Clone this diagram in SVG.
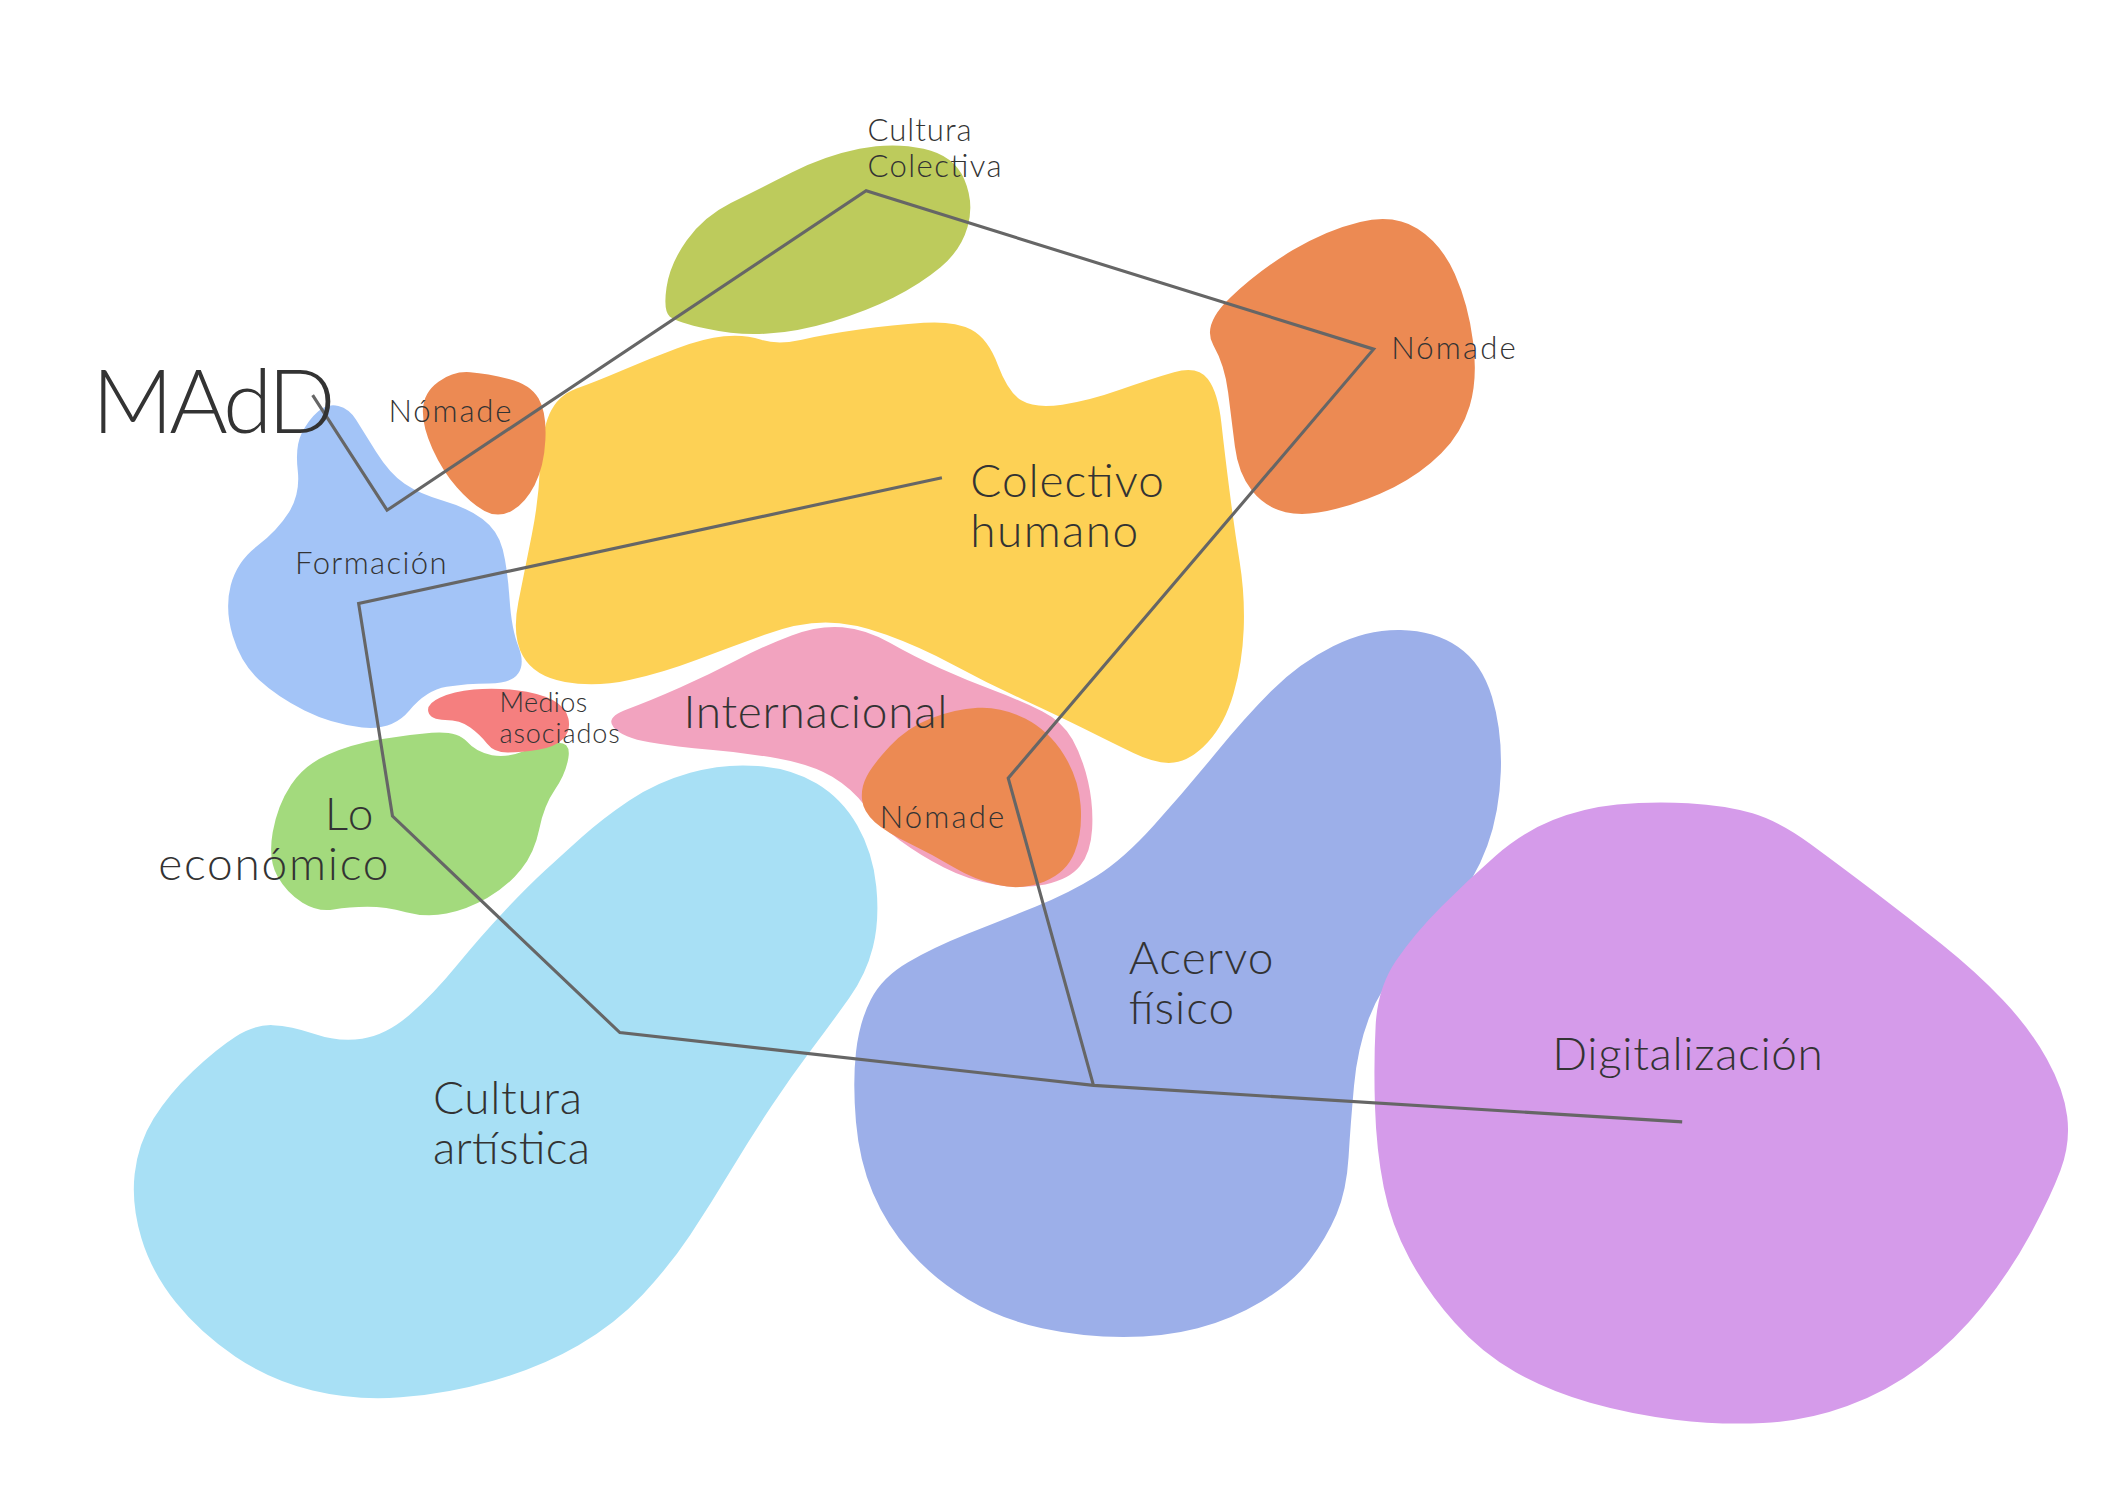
<svg xmlns="http://www.w3.org/2000/svg" width="2122" height="1500" viewBox="0 0 2122 1500">
<style>
.t{font-family:"Lato","Noto Sans","Liberation Sans",sans-serif;font-weight:300;fill:#333}
.s{font-size:23px}
.m{font-size:34px}
.ln{fill:none;stroke:#666;stroke-width:2.3;stroke-linejoin:miter}
</style>
<rect width="2122" height="1500" fill="#fff"/>
<g transform="scale(1.35332)">
<g id="cultura-artistica"><path fill="#A8E0F5" d="M430,618.5 Q445,605 465,591.5 Q485,578 510,571 Q535,564 560,566 Q585,568 603.5,579 Q622,590 633.5,610 Q645,630 647.5,655 Q650,680 645,700 Q640,720 627.5,737.5 Q615,755 600,775 Q585,795 570,817.5 Q555,840 540,865 Q525,890 510,912.5 Q495,935 475,956.5 Q455,978 427.5,994 Q400,1010 365,1020 Q330,1030 296,1032.5 Q262,1035 231,1027.5 Q200,1020 174,1002.5 Q148,985 130,962.5 Q112,940 104.5,915 Q97,890 99.5,867.5 Q102,845 113.5,826.5 Q125,808 142.5,791.5 Q160,775 174,766 Q188,757 201.5,757.5 Q215,758 232.5,764 Q250,770 267.5,767.5 Q285,765 302.5,750 Q320,735 337.5,713.5 Q355,692 372.5,673.5 Q390,655 402.5,643.5 Q415,632 430,618.5Z"/></g>
<g id="lo-economico"><path fill="#A3DA7D" d="M201.5,615 Q205,595 215,580 Q225,565 242.5,557.5 Q260,550 280,546.5 Q300,543 319,541.5 Q338,540 345,548 Q352,556 363.5,558 Q375,560 387.5,555 Q400,550 411,549 Q422,548 420,560 Q418,572 410,583.5 Q402,595 398.5,612.5 Q395,630 385,642.5 Q375,655 360,663.5 Q345,672 330,675 Q315,678 300,674 Q285,670 271.5,670 Q258,670 246.5,672 Q235,674 223.5,667 Q212,660 205,647.5 Q198,635 201.5,615Z"/></g>
<g id="formacion"><path fill="#A3C4F7" d="M250,300 Q242,298 235,304 Q228,310 223,320 Q218,330 220,347.5 Q222,365 213.5,378.5 Q205,392 190,403.5 Q175,415 170.5,432.5 Q166,450 172,470 Q178,490 191.5,502.5 Q205,515 225,525 Q245,535 267.5,537.5 Q290,540 302.5,525 Q315,510 330,507.5 Q345,505 361.5,505 Q378,505 383,497.5 Q388,490 383,477.5 Q378,465 376.5,442.5 Q375,420 371.5,406 Q368,392 356.5,383.5 Q345,375 327.5,370 Q310,365 299,357.5 Q288,350 278,334 Q268,318 263,310 Q258,302 250,300Z"/></g>
<g id="medios-asociados"><path fill="#F57F7F" d="M316.5,526 Q315,520 325,515.5 Q335,511 350,509.5 Q365,508 381.5,510 Q398,512 408,517 Q418,522 420,531 Q422,540 416,546 Q410,552 397.5,554 Q385,556 375,556 Q365,556 360,549.5 Q355,543 347.5,537.5 Q340,532 329,532 Q318,532 316.5,526Z"/></g>
<g id="colectivo-humano"><path fill="#FDD155" d="M406,306 Q412,292 426,287 Q440,282 460,273.5 Q480,265 500,257.5 Q520,250 535,248.5 Q550,247 562.5,251 Q575,255 592.5,251 Q610,247 635,243.5 Q660,240 682.5,238.5 Q705,237 717.5,243.5 Q730,250 737.5,270 Q745,290 755,296 Q765,302 785,299 Q805,296 827.5,288 Q850,280 867.5,275 Q885,270 892.5,280 Q900,290 902.5,312.5 Q905,335 908.5,362.5 Q912,390 916,415 Q920,440 919,465 Q918,490 911.5,512.5 Q905,535 892.5,548.5 Q880,562 867.5,563.5 Q855,565 837.5,556.5 Q820,548 800,538 Q780,528 755,516.5 Q730,505 705,491.5 Q680,478 655,469 Q630,460 610,460 Q590,460 565,469 Q540,478 515,487.5 Q490,497 465,502.5 Q440,508 417.5,504 Q395,500 386.5,485 Q378,470 383,445 Q388,420 393,395 Q398,370 399,345 Q400,320 406,306Z"/></g>
<g id="internacional"><path fill="#F2A3BF" d="M453.5,537.5 Q447,530 463.5,524 Q480,518 502.5,508 Q525,498 545,487.5 Q565,477 585,469.5 Q605,462 622.5,463.5 Q640,465 657.5,475 Q675,485 695,494 Q715,503 735,510.5 Q755,518 770,525.5 Q785,533 792.5,546.5 Q800,560 804,577.5 Q808,595 807,612.5 Q806,630 798,640 Q790,650 772.5,653.5 Q755,657 735,653.5 Q715,650 697.5,641 Q680,632 665,621 Q650,610 640,596.5 Q630,583 615,574 Q600,565 575,560.5 Q550,556 525,554 Q500,552 480,548.5 Q460,545 453.5,537.5Z"/></g>
<g id="nomade-internacional"><path fill="#EC8A53" d="M640.5,573.5 Q645,565 657.5,551.5 Q670,538 687.5,531 Q705,524 722.5,523 Q740,522 757.5,531 Q775,540 786,557.5 Q797,575 798.5,595 Q800,615 794,630 Q788,645 771.5,651.5 Q755,658 737.5,654 Q720,650 705,641 Q690,632 672.5,623.5 Q655,615 646.5,607.5 Q638,600 637,591 Q636,582 640.5,573.5Z"/></g>
<g id="cultura-colectiva"><path fill="#BDCB5C" d="M495,234 Q490,230 492.5,212.5 Q495,195 507.5,177.5 Q520,160 540,150 Q560,140 585,127.5 Q610,115 635,110 Q660,105 682.5,110 Q705,115 712.5,132.5 Q720,150 715,167.5 Q710,185 695,197.5 Q680,210 660,220 Q640,230 615,237.5 Q590,245 567.5,246.5 Q545,248 522.5,243 Q500,238 495,234Z"/></g>
<g id="nomade-formacion"><path fill="#EC8A53" d="M312.5,302.5 Q313,290 324,282 Q335,274 347.5,275 Q360,276 376,280 Q392,284 398,294.5 Q404,305 403,325 Q402,345 395,358.5 Q388,372 378,377.5 Q368,383 358,377.5 Q348,372 337.5,360 Q327,348 319.5,331.5 Q312,315 312.5,302.5Z"/></g>
<g id="nomade-colectiva"><path fill="#EC8A53" d="M896.5,255 Q888,240 909,220 Q930,200 955,185 Q980,170 1005,164 Q1030,158 1047.5,169 Q1065,180 1075,202.5 Q1085,225 1088.5,252.5 Q1092,280 1086,300 Q1080,320 1065,335 Q1050,350 1030,360 Q1010,370 987.5,376 Q965,382 950,378.5 Q935,375 925,362.5 Q915,350 912.5,330 Q910,310 907.5,290 Q905,270 896.5,255Z"/></g>
<g id="acervo-fisico"><path fill="#9CAFE9" d="M632.5,829 Q630,800 632.5,777.5 Q635,755 643.5,738.5 Q652,722 671,711 Q690,700 715,690 Q740,680 765,670 Q790,660 810,647.5 Q830,635 852.5,610 Q875,585 897.5,557.5 Q920,530 940,510 Q960,490 985,477.5 Q1010,465 1035,465.5 Q1060,466 1077.5,478 Q1095,490 1102.5,515 Q1110,540 1109,570 Q1108,600 1099,625 Q1090,650 1070,675 Q1050,700 1035,715 Q1020,730 1011.5,752.5 Q1003,775 1000.5,802.5 Q998,830 996.5,855 Q995,880 987.5,897.5 Q980,915 967.5,931.5 Q955,948 932.5,961.5 Q910,975 885,981.5 Q860,988 830,988 Q800,988 770,981.5 Q740,975 715,960 Q690,945 672.5,925 Q655,905 645,881.5 Q635,858 632.5,829Z"/></g>
<g id="digitalizacion"><path fill="#D59BEA" d="M1016.5,757.5 Q1018,730 1031.5,710 Q1045,690 1065,670 Q1085,650 1105,632.5 Q1125,615 1147.5,606 Q1170,597 1195,594.5 Q1220,592 1247.5,593.5 Q1275,595 1295,601 Q1315,607 1337.5,623.5 Q1360,640 1385,659 Q1410,678 1435,698 Q1460,718 1480,739 Q1500,760 1512.5,782.5 Q1525,805 1527.5,825 Q1530,845 1522.5,865 Q1515,885 1500,912.5 Q1485,940 1465,965 Q1445,990 1420,1009 Q1395,1028 1365,1039 Q1335,1050 1302.5,1051.5 Q1270,1053 1237.5,1049 Q1205,1045 1175,1036.5 Q1145,1028 1120,1014 Q1095,1000 1075,977.5 Q1055,955 1041.5,930 Q1028,905 1022.5,877.5 Q1017,850 1016,817.5 Q1015,785 1016.5,757.5Z"/></g>
<g id="connectors">
<polyline class="ln" points="231,292 286,377 640,141 1015,258 745,575 808,802"/>
<polyline class="ln" points="696,353 265,446 290,603 458,763 808,802 1243,829"/>
</g>
<g id="labels">
<text class="t" x="68" y="320" font-size="66" textLength="180">MAdD</text>
<text class="t s" x="641" y="104" textLength="77">Cultura</text>
<text class="t s" x="641" y="131" textLength="99">Colectiva</text>
<text class="t s" x="287" y="312" textLength="91">Nómade</text>
<text class="t s" x="1028" y="265" textLength="92">Nómade</text>
<text class="t m" x="717" y="367" textLength="143">Colectivo</text>
<text class="t m" x="717" y="404" textLength="124">humano</text>
<text class="t s" x="218" y="424" textLength="112">Formación</text>
<text class="t" x="369" y="526" font-size="20" textLength="65">Medios</text>
<text class="t" x="369" y="549" font-size="20" textLength="89">asociados</text>
<text class="t m" x="505" y="538" textLength="195">Internacional</text>
<text class="t s" x="650" y="612" textLength="92">Nómade</text>
<text class="t m" x="240" y="613" textLength="36">Lo</text>
<text class="t m" x="117" y="650" textLength="170">económico</text>
<text class="t m" x="834" y="720" textLength="107">Acervo</text>
<text class="t m" x="834" y="757" textLength="78">físico</text>
<text class="t m" x="320" y="823" textLength="110">Cultura</text>
<text class="t m" x="320" y="860" textLength="116">artística</text>
<text class="t m" x="1147" y="791" textLength="200">Digitalización</text>
</g>
</g>
</svg>
